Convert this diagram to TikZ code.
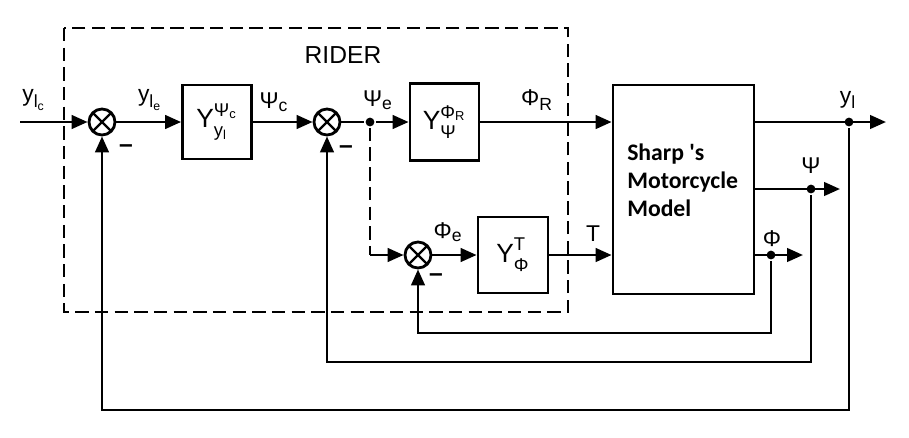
\documentclass[tikz,border=0pt]{standalone}
\usepackage{amsmath}
\usepackage{fontspec}
\setmainfont{Liberation Sans}
\newfontfamily\modelfont{Carlito}
\usetikzlibrary{arrows.meta}
\DeclareMathSizes{13}{13}{10}{9}
\DeclareMathSizes{15}{15}{10.5}{9}

\newcommand{\sgn}[2]{#1$_{\text{#2}}$}
\newcommand{\tfn}[2]{Y$^{\text{\raisebox{0.25ex}{#1}}}_{\text{\raisebox{-0.3ex}{#2}}}$}

\tikzset{
  block/.style={draw, minimum width=1.38cm, minimum height=1.48cm, inner sep=0pt,
    font=\fontsize{15}{17}\selectfont},
  sumnode/.style={draw, circle, minimum size=0.52cm, inner sep=0pt,
    path picture={\draw[line width=1.3pt]
      (path picture bounding box.north west) -- (path picture bounding box.south east)
      (path picture bounding box.north east) -- (path picture bounding box.south west);}},
  sig/.style={font=\fontsize{13}{15}\selectfont, inner sep=1pt},
  minus/.style={font=\fontsize{14}{16}\selectfont\bfseries, inner sep=0pt},
  dot/.style={circle, fill, inner sep=0pt, minimum size=5pt},
  riderbox/.style={dashed, dash pattern=on 7.6pt off 3.6pt},
}

\begin{document}
\begin{tikzpicture}[x=0.02cm, y=-0.02cm, line width=1.6pt,
    >={Triangle[length=3.2mm, width=2.7mm]}]
  \useasboundingbox (0,0) rectangle (909,437);

  \draw[riderbox] (64,28) rectangle (568,312);
  \node[font=\fontsize{14}{16}\selectfont] (rider) at (343,55) {RIDER};

  \coordinate (in) at (20,122);
  \node[sumnode] (s1) at (102,122) {};
  \node[block] (ypsi) at (217,122) {\tfn{Ψ$_{\text{c}}$}{y$_{\text{l}}$}};
  \node[sumnode] (s2) at (327,122) {};
  \node[dot] (j1) at (370,122) {};
  \node[block, minimum height=1.54cm] (yphir) at (444.5,122) {\tfn{Φ$_{\text{R}}$}{Ψ}};
  \node[sumnode] (s3) at (418,255) {};
  \node[block, minimum width=1.4cm, minimum height=1.52cm] (yt) at (513,255) {\tfn{T}{Φ}};
  \node[draw, minimum width=2.82cm, minimum height=4.18cm] (model) at (683.5,189.5) {};
  \node[anchor=west, align=left, font=\fontsize{13.5}{16}\selectfont\modelfont\bfseries]
    (mtext) at (620,180) {Sharp 's\\Motorcycle\\Model};

  \coordinate (k) at (370,255);
  \node[dot] (dyl) at (849,122) {};
  \node[dot] (dpsi) at (811,189) {};
  \node[dot] (dphi) at (771,255) {};
  \coordinate (eyl) at (886,122);
  \coordinate (epsi) at (840,189);
  \coordinate (ephi) at (803,255);

  \draw[->] (in) -- (s1);
  \draw[->] (s1) -- (ypsi);
  \draw[->] (ypsi) -- (s2);
  \draw (s2) -- (j1);
  \draw[->] (j1) -- (yphir);
  \draw[->] (yphir) -- (yphir -| model.west);
  \draw[riderbox] (j1) -- (k);
  \draw[->] (k) -- (s3);
  \draw[->] (s3) -- (yt);
  \draw[->] (yt) -- (yt -| model.west);

  \draw[->] (model.east |- dyl) -- (eyl);
  \draw[->] (model.east |- dpsi) -- (epsi);
  \draw[->] (model.east |- dphi) -- (ephi);

  \draw[->] (dphi) -- ++(0,78) -| (s3);
  \draw[->] (dpsi) -- ++(0,173) -| (s2);
  \draw[->] (dyl) -- ++(0,288) -| (s1);

  \node[sig] (lylc) at (34,100) {\sgn{y}{l$_{\text{c}}$}};
  \node[sig] (lyle) at (150,100) {\sgn{y}{l$_{\text{e}}$}};
  \node[sig] (lpsic) at (274,102) {\sgn{Ψ}{c}};
  \node[sig] (lpsie) at (378,100) {\sgn{Ψ}{e}};
  \node[sig] (lphir) at (537,100) {\sgn{Φ}{R}};
  \node[sig] (lphie) at (448,232) {\sgn{Φ}{e}};
  \node[sig] (lt) at (593,234) {T};
  \node[sig] (lyl) at (848,100) {\sgn{y}{l}};
  \node[sig] (lpsi) at (811,166) {Ψ};
  \node[sig] (lphi) at (772,239) {Φ};

  \node[minus] (m1) at (126,149) {–};
  \node[minus] (m2) at (346,150) {–};
  \node[minus] (m3) at (436,278) {–};
\end{tikzpicture}
\end{document}
